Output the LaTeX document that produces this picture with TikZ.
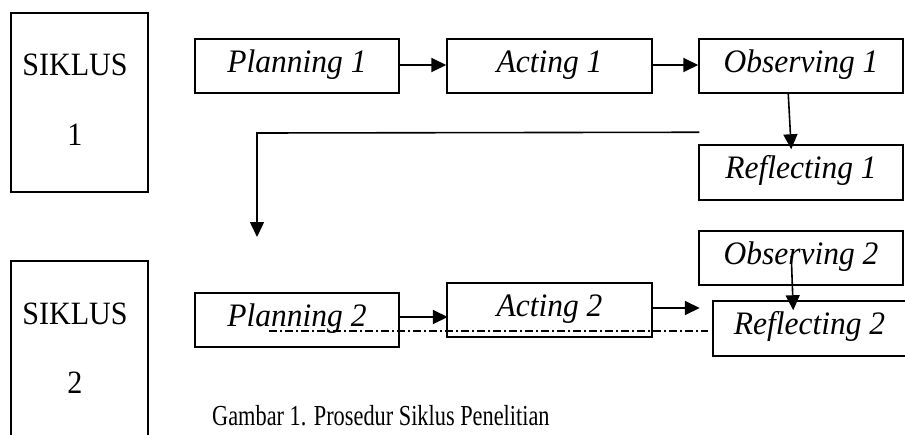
\documentclass[tikz,border=0pt]{standalone}
\usepackage{fontspec}
\usepackage{graphicx}
\setmainfont{Liberation Serif}
\usetikzlibrary{arrows.meta,calc}
\newcommand\tallbox[1]{\scalebox{1}[1.04]{#1}}
\begin{document}
\begin{tikzpicture}[x=1pt,y=-1pt,
  stepbox/.style={draw,line width=1.5pt,minimum width=204pt,minimum height=54pt,inner sep=0pt,
    font=\fontsize{31.5}{31.5}\selectfont\itshape,text height=21pt,text depth=9pt},
  sbox/.style={draw,line width=1.5pt,minimum width=137pt,inner sep=0pt},
  stext/.style={font=\fontsize{31}{31}\selectfont,inner sep=0pt,anchor=base},
  captext/.style={font=\fontsize{29}{29}\selectfont,inner sep=0pt,anchor=base west},
  arr/.style={line width=2pt,-{Triangle[length=15pt,width=14pt]}},
  arrthin/.style={line width=1.6pt,-{Triangle[length=15pt,width=14pt]}},
  dashdot/.style={line width=1.2pt,dash pattern=on 8pt off 3pt on 2pt off 3pt}
]
\useasboundingbox (0,0) rectangle (905,434);
\clip (0,0) rectangle (905,434);
% cycle boxes
\node[sbox,minimum height=179pt] (s1) at (79.5,102.5) {};
\node[stext] (s1a) at (75,75) {\scalebox{0.97}[1.05]{SIKLUS}};
\node[stext] (s1b) at (75,145) {\scalebox{0.97}[1.05]{1}};
\node[sbox,minimum height=189pt] (s2) at (79.5,355.5) {};
\node[stext] (s2a) at (75,324) {\scalebox{0.97}[1.05]{SIKLUS}};
\node[stext] (s2b) at (75,393) {\scalebox{0.97}[1.05]{2}};
% cycle 1
\node[stepbox] (p1) at (297,66) {\tallbox{Planning 1}};
\node[stepbox,minimum width=205pt] (a1) at (549.5,66) {\tallbox{Acting 1}};
\node[stepbox] (o1) at (801,66) {\tallbox{Observing 1}};
\node[stepbox,minimum height=55pt] (r1) at (801,172.5) {\tallbox{Reflecting 1}};
% cycle 2
\node[stepbox] (p2) at (297,320) {\tallbox{Planning 2}};
\node[stepbox,minimum width=205pt] (a2) at (549.5,310) {\tallbox{Acting 2}};
\node[stepbox] (o2) at (801,258) {\tallbox{Observing 2}};
\node[stepbox,minimum width=193pt,minimum height=55pt] (r2) at (809.5,328.5) {\tallbox{Reflecting 2}};
% caption
\node[captext] (cap) at (212,425) {\scalebox{0.77}[1]{Gambar 1. Prosedur Siklus Penelitian}};
% connectors
\draw[arr] ($(p1.east)+(0,-1)$) -- ($(a1.west)+(0,-1)$);
\draw[arr] ($(a1.east)+(0,-1)$) -- ($(o1.west)+(0,-1)$);
\draw[arrthin] ($(o1.south west)+(90,0)$) -- ($(r1.north west)+(93,5)$);
\coordinate (rs) at ($(r1.north west)+(1,-12)$);
\coordinate (rc) at (257,133);
\coordinate (re) at (257,237);
\draw[arrthin] (rs) -- (rc) -- (re);
\draw[arr] ($(p2.east)+(0,-3)$) -- ($(p2.east)+(48,-3)$);
\coordinate (ae) at ($(a2.east)+(47,-2)$);
\draw[arr] ($(a2.east)+(0,-2)$) -- (ae);
\draw[arrthin] ($(o2.south west)+(93,-30)$) -- ($(r2.north west)+(81,10)$);
\coordinate (d1) at (269,331);
\coordinate (d2) at (708,331);
\draw[dashdot] (d1) -- (d2);
\end{tikzpicture}
\end{document}
